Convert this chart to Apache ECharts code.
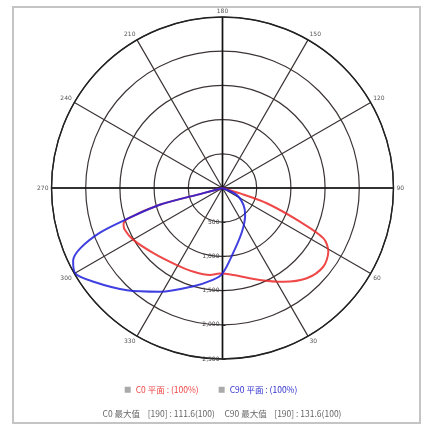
<!DOCTYPE html>
<html>
<head>
<meta charset="utf-8">
<script src="https://cdn.jsdelivr.net/npm/echarts@6/dist/echarts.min.js"></script>
<style>
html,body{margin:0;padding:0;background:#fff;}
#chart{width:422px;height:425px;}
</style>
</head>
<body>
<div id="chart"></div>
<script>
// Gamma angles (deg, 0 = straight down) and intensities for each plane
const redAngles  = [75, 73, 71, 66.5, 63.5, 59, 52, 43, 33, 22, 7, 358, 352, 341, 329, 313, 300, 293, 290, 288, 285, 285, 270];
const redValues  = [0, 270, 685, 1235, 1650, 1805, 1870, 1805, 1635, 1450, 1280, 1250, 1285, 1295, 1310, 1390, 1510, 1555, 1540, 1470, 950, 290, 0];
const blueAngles = [270, 285, 285, 288, 290, 293, 296, 300, 306, 317, 329, 343, 354, 0, 10, 24, 40, 51, 64, 90];
const blueValues = [0, 290, 950, 1470, 1900, 2260, 2430, 2490, 2330, 2045, 1770, 1505, 1350, 1250, 945, 700, 515, 395, 230, 0];
const ringValues = [500, 1000, 1500, 2000, 2500];
const seriesNames = ['C0 平面 : (100%)', 'C90 平面 : (100%)'];
const footerText = 'C0 最大值    [190] : 111.6(100)     C90 最大值    [190] : 131.6(100)';

const pair = (vals, angs) => vals.map((v, i) => [v, angs[i]]);

const chart = echarts.init(document.getElementById('chart'));
const center = [222.5, 188];
const radius = 171;
chart.setOption({
  animation: false,
  backgroundColor: '#fff',
  polar: [
    { center: center, radius: radius },
    { center: center, radius: radius }
  ],
  angleAxis: [
    {
      polarIndex: 0, type: 'value', min: 0, max: 360, interval: 30,
      startAngle: 270, clockwise: false,
      axisLine: { show: true, lineStyle: { color: '#222', width: 1.4 } },
      axisTick: { show: false },
      axisLabel: {
        margin: 3, fontSize: 6, color: '#555', fontFamily: 'DejaVu Sans',
        formatter: v => (v === 0 || v === 360) ? '' : String(v)
      },
      splitLine: { show: true, lineStyle: { color: '#3c3434', width: 1.2 } }
    },
    {
      polarIndex: 1, type: 'value', min: 0, max: 360, interval: 90,
      startAngle: 270, clockwise: false,
      axisLine: { show: false }, axisTick: { show: false }, axisLabel: { show: false },
      splitLine: { show: true, lineStyle: { color: '#111', width: 1.6 } }
    }
  ],
  radiusAxis: [
    {
      polarIndex: 0, type: 'value', min: 0, max: ringValues[ringValues.length - 1], interval: ringValues[0],
      axisLine: { show: false },
      axisTick: { show: true, length: 3, lineStyle: { color: '#222' } },
      axisLabel: {
        show: true, fontSize: 6, color: '#444', fontFamily: 'DejaVu Sans', margin: -3,
        align: 'right', verticalAlign: 'middle',
        formatter: v => v === 0 ? '' : v.toLocaleString('en-US')
      },
      splitLine: { show: true, lineStyle: { color: '#3c3434', width: 1.2 } }
    },
    { polarIndex: 1, type: 'value', min: 0, max: 2500, show: false }
  ],
  legend: {
    bottom: 26, left: 'center', itemWidth: 6, itemHeight: 6, itemGap: 20, icon: 'rect',
    textStyle: { fontSize: 8.5, fontFamily: 'Noto Sans CJK SC' },
    data: [
      { name: seriesNames[0], itemStyle: { color: '#aaa' }, textStyle: { color: '#ee4444' } },
      { name: seriesNames[1], itemStyle: { color: '#aaa' }, textStyle: { color: '#3030d0' } }
    ]
  },
  graphic: [
    { type: 'rect', shape: { x: 13, y: 7, width: 407, height: 416 }, style: { fill: 'none', stroke: '#c4c4c4', lineWidth: 2 }, silent: true },
    { type: 'text', x: 222, y: 414, style: { text: footerText, fontSize: 8.5, fill: '#666', align: 'center', verticalAlign: 'middle', fontFamily: 'Noto Sans CJK SC' } }
  ],
  series: [
    {
      name: seriesNames[0], type: 'line', coordinateSystem: 'polar', polarIndex: 0,
      data: pair(redValues, redAngles), showSymbol: false, smooth: 0.3,
      lineStyle: { color: 'rgba(235,40,40,0.85)', width: 2 }, itemStyle: { color: '#e83a3a' }
    },
    {
      name: seriesNames[1], type: 'line', coordinateSystem: 'polar', polarIndex: 0,
      data: pair(blueValues, blueAngles), showSymbol: false, smooth: 0.3,
      lineStyle: { color: 'rgba(30,30,220,0.85)', width: 2 }, itemStyle: { color: '#3030d0' }
    }
  ]
});
</script>
</body>
</html>
